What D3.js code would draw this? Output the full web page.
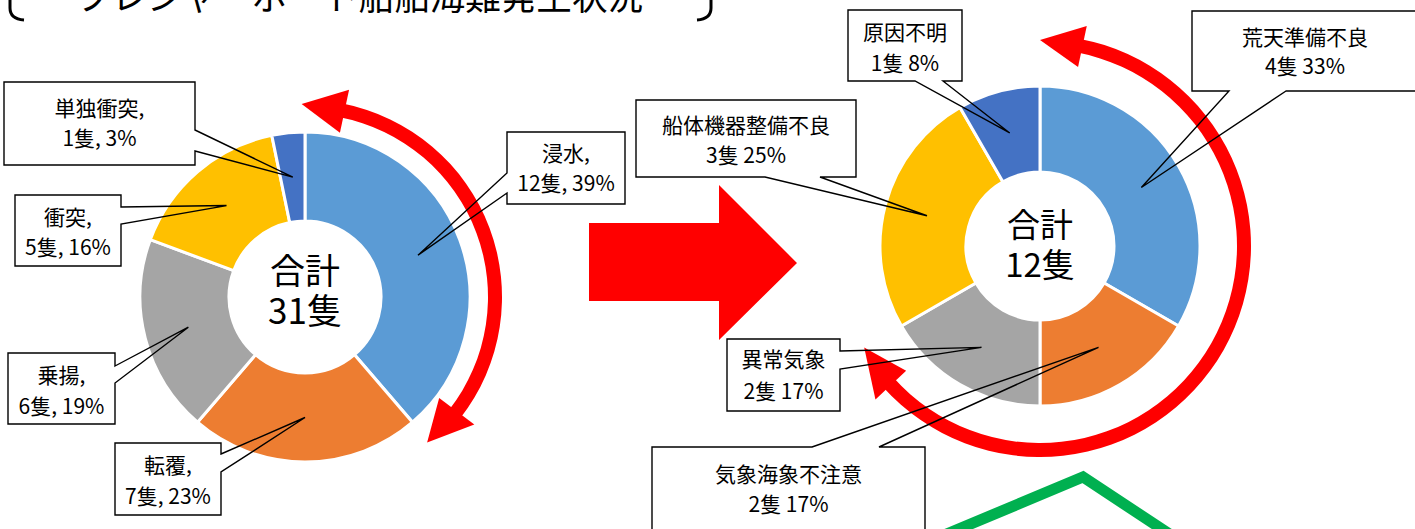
<!DOCTYPE html>
<html>
<head>
<meta charset="utf-8">
<script src="https://cdn.jsdelivr.net/npm/d3@7"></script>
<style>
  body { margin: 0; background: #fff; }
  text { font-family: "Noto Sans CJK JP", "Noto Sans", sans-serif; fill: #000; }
</style>
</head>
<body>
<div id="container"></div>
<script>
// ---- data ----
let titleText = "プレジャーボート船舶海難発生状況";

let leftCats = ["浸水", "転覆", "乗揚", "衝突", "単独衝突"];
let leftVals = [12, 7, 6, 5, 1];

let rightCats = ["荒天準備不良", "気象海象不注意", "異常気象", "船体機器整備不良", "原因不明"];
let rightVals = [4, 2, 2, 3, 1];

let sliceColors = ["#5B9BD5", "#ED7D31", "#A5A5A5", "#FFC000", "#4472C4"];

// ---- layout ----
let w = 1415;
let h = 529;

let viz = d3.select("#container")
  .append("svg")
    .attr("width", w)
    .attr("height", h)
    .style("display", "block")
;

// callout boxes: [x0, y0, x1, y1], side the wedge leaves from, and the two attach points on that side
let leftBoxes = [
  { box: [507, 132, 625, 204], side: "left",  a: 173, b: 193 },
  { box: [115, 443, 221, 515], side: "right", a: 454, b: 472 },
  { box: [8, 353, 115, 424],   side: "right", a: 366, b: 383 },
  { box: [15, 195, 121, 266],  side: "right", a: 207, b: 224 },
  { box: [4, 82, 195, 165],    side: "right", a: 130, b: 151 }
];
let rightBoxes = [
  { box: [1192, 11, 1425, 91],  side: "bottom", a: 1229, b: 1286 },
  { box: [652, 447, 925, 545],  side: "top",    a: 812, b: 879 },
  { box: [727, 339, 840, 411],  side: "right",  a: 351, b: 369 },
  { box: [636, 100, 856, 177],  side: "bottom", a: 765, b: 820 },
  { box: [848, 10, 962, 81],    side: "bottom", a: 915, b: 943 }
];

function calloutPath(c, tip) {
  let [x0, y0, x1, y1] = c.box;
  let t = tip[0] + "," + tip[1];
  if (c.side == "right") {
    return "M" + x1 + "," + c.a + "L" + t + "L" + x1 + "," + c.b + "L" + x1 + "," + y1 + "L" + x0 + "," + y1 + "L" + x0 + "," + y0 + "L" + x1 + "," + y0 + "Z";
  } else if (c.side == "left") {
    return "M" + x0 + "," + c.b + "L" + t + "L" + x0 + "," + c.a + "L" + x0 + "," + y0 + "L" + x1 + "," + y0 + "L" + x1 + "," + y1 + "L" + x0 + "," + y1 + "Z";
  } else if (c.side == "bottom") {
    return "M" + c.b + "," + y1 + "L" + t + "L" + c.a + "," + y1 + "L" + x0 + "," + y1 + "L" + x0 + "," + y0 + "L" + x1 + "," + y0 + "L" + x1 + "," + y1 + "Z";
  } else {
    return "M" + c.a + "," + y0 + "L" + t + "L" + c.b + "," + y0 + "L" + x1 + "," + y0 + "L" + x1 + "," + y1 + "L" + x0 + "," + y1 + "L" + x0 + "," + y0 + "Z";
  }
}

function polar(cx, cy, deg, r) {
  let a = deg * Math.PI / 180;
  return [cx + r * Math.sin(a), cy - r * Math.cos(a)];
}

function drawDonut(cats, vals, cx, cy, rIn, rOut, boxes, lineFmt, totalSize, totalY) {
  let total = d3.sum(vals);
  let pie = d3.pie().sort(null).value(function(d) { return d; });
  let arcs = pie(vals);
  let arc = d3.arc().innerRadius(rIn).outerRadius(rOut);
  let mid = d3.arc().innerRadius((rIn + rOut) / 2).outerRadius((rIn + rOut) / 2);

  let g = viz.append("g").attr("transform", "translate(" + cx + "," + cy + ")");
  g.selectAll("path").data(arcs).enter()
    .append("path")
      .attr("d", arc)
      .attr("fill", function(d, i) { return sliceColors[i]; })
      .attr("stroke", "#fff")
      .attr("stroke-width", 3)
  ;

  g.append("text").attr("text-anchor", "middle").attr("y", totalY[0])
    .style("font-size", totalSize + "px").text("合計");
  g.append("text").attr("text-anchor", "middle").attr("y", totalY[1])
    .style("font-size", totalSize + "px").text(total + "隻");

  return arcs.map(function(d, i) {
    let c = mid.centroid(d);
    let pct = Math.round(vals[i] / total * 100);
    return { cat: cats[i], val: vals[i], pct: pct, tip: [cx + c[0], cy + c[1]], box: boxes[i], lines: lineFmt(cats[i], vals[i], pct) };
  });
}

function drawCallouts(labels, fontSize, lineGap) {
  let cg = viz.append("g").attr("class", "callouts");
  labels.forEach(function(l) {
    let [x0, y0, x1, y1] = l.box.box;
    cg.append("rect")
      .attr("x", x0).attr("y", y0)
      .attr("width", x1 - x0).attr("height", y1 - y0)
      .attr("fill", "#fff");
    cg.append("path")
      .attr("d", calloutPath(l.box, l.tip))
      .attr("fill", "none")
      .attr("stroke", "#000")
      .attr("stroke-width", 1.4)
      .attr("stroke-linejoin", "miter");
    let tx = l.box.tx || (x0 + x1) / 2;
    let ty = l.box.ty || (y0 + Math.min(y1, 91 + y0) ) / 2;
    let t = cg.append("text")
      .attr("text-anchor", "middle")
      .style("font-size", fontSize + "px");
    l.lines.forEach(function(s, k) {
      t.append("tspan").attr("x", tx).attr("y", l.box.base[k]).text(s);
    });
  });
}

// baselines for the two text lines in each box
leftBoxes[0].base = [161, 191];
leftBoxes[1].base = [473, 504];
leftBoxes[2].base = [383, 414];
leftBoxes[3].base = [225, 255];
leftBoxes[4].base = [116, 146];
rightBoxes[0].base = [45, 74];  rightBoxes[0].tx = 1305;
rightBoxes[1].base = [482, 512];
rightBoxes[2].base = [367, 399];
rightBoxes[3].base = [133, 163];
rightBoxes[4].base = [40, 71];

// ---- red arrows ----
let red = "#FF0000";

viz.append("polygon")
  .attr("points", [[589, 223], [719, 223], [719, 185], [797, 263], [719, 340], [719, 301], [589, 301]].join(" "))
  .attr("fill", red);

function arcArrow(cx, cy, r, a0, a1, head0, head1) {
  let g = viz.append("g");
  g.append("path")
    .attr("transform", "translate(" + cx + "," + cy + ")")
    .attr("d", d3.arc().innerRadius(r - 7).outerRadius(r + 7)
      .startAngle(a0 * Math.PI / 180).endAngle(a1 * Math.PI / 180)())
    .attr("fill", red);
  [head0, head1].forEach(function(hd) {
    let pts = [polar(cx, cy, hd.tip, hd.rt), polar(cx, cy, hd.base, r - hd.half), polar(cx, cy, hd.base, r + hd.half)];
    g.append("polygon").attr("points", pts.join(" ")).attr("fill", red);
  });
}

arcArrow(305, 297, 190, 11, 128,
  { tip: -1, rt: 193, base: 12, half: 22 },
  { tip: 140, rt: 190, base: 127, half: 22 });
arcArrow(1040, 246, 204, 11, 228,
  { tip: 0, rt: 206, base: 12, half: 21 },
  { tip: 240, rt: 203, base: 227, half: 21 });

// ---- donuts ----
let leftLabels = drawDonut(leftCats, leftVals, 305, 297, 76, 165, leftBoxes,
  function(c, v, p) { return [c + ",", v + "隻, " + p + "%"]; }, 35, [-13, 27]);
let rightLabels = drawDonut(rightCats, rightVals, 1040, 246, 74, 160, rightBoxes,
  function(c, v, p) { return [c, v + "隻 " + p + "%"]; }, 33, [-9, 31]);

drawCallouts(leftLabels, 21);
drawCallouts(rightLabels, 21);

// ---- green outline (cut off at bottom) ----
viz.append("polyline")
  .attr("points", [[930, 541], [1083, 477], [1180, 541]].join(" "))
  .attr("fill", "none")
  .attr("stroke", "#00B050")
  .attr("stroke-width", 11)
  .attr("stroke-linejoin", "miter");

// ---- title (mostly above the page) ----
viz.append("text")
  .attr("x", 76).attr("y", 10)
  .attr("textLength", 567)
  .attr("lengthAdjust", "spacingAndGlyphs")
  .style("font-size", "36px")
  .text(titleText);

viz.append("path")
  .attr("d", "M10,-20 L10,8 Q10,19 24,20")
  .attr("fill", "none").attr("stroke", "#000").attr("stroke-width", 3);
viz.append("path")
  .attr("d", "M711,-20 L711,8 Q711,19 697,20")
  .attr("fill", "none").attr("stroke", "#000").attr("stroke-width", 3);
</script>
</body>
</html>
